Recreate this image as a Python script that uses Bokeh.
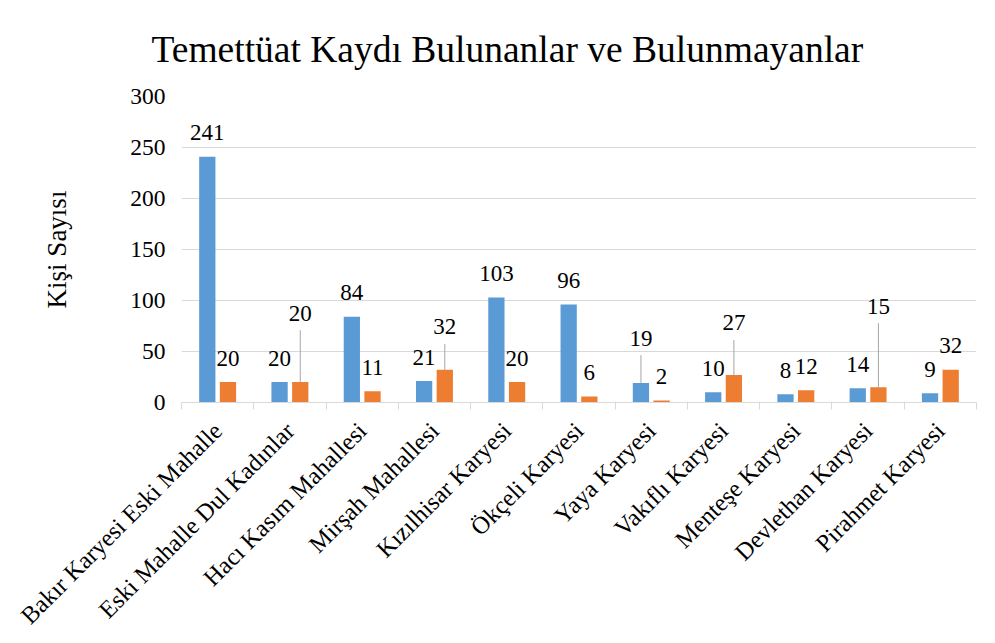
import math
from bokeh.plotting import figure
from bokeh.models import ColumnDataSource, Range1d, FixedTicker
from bokeh.transform import dodge
from bokeh.core.properties import value
from bokeh.embed import file_html
from bokeh.resources import INLINE

# ---- data ----
categories = ["Bakır Karyesi Eski Mahalle", "Eski Mahalle Dul Kadınlar",
              "Hacı Kasım Mahallesi", "Mirşah Mahallesi", "Kızılhisar Karyesi",
              "Ökçeli Karyesi", "Yaya Karyesi", "Vakıflı Karyesi",
              "Menteşe Karyesi", "Devlethan Karyesi", "Pirahmet Karyesi"]
bulunanlar = [241, 20, 84, 21, 103, 96, 19, 10, 8, 14, 9]
bulunmayanlar = [20, 20, 11, 32, 20, 6, 2, 27, 12, 15, 32]
y_ticks = [0, 50, 100, 150, 200, 250, 300]
title_text = "Temettüat Kaydı Bulunanlar ve Bulunmayanlar"
y_title = "Kişi Sayısı"

# ---- style: extra lift (px) of data labels that use a leader line ----
blue_label_lift = [0, 0, 0, 0, 0, 0, 21, 0, 0, 0, 0]
orange_label_lift = [0, 45, 0, 19, 0, 0, 0, 28, 0, 57, 0]

FONT = "Liberation Serif"
BLUE = "#5B9BD5"
ORANGE = "#ED7D31"
GRID = "#d9d9d9"
LEADER = "#a6a6a6"
BASE_OFF = 24
OFFS = 0.143
BAR_W = 0.225

n = len(categories)
centers = [i + 0.5 for i in range(n)]
bounds = list(range(n + 1))

src = ColumnDataSource(dict(
    x=centers,
    blue=bulunanlar,
    orange=bulunmayanlar,
    blue_lbl=[str(v) for v in bulunanlar],
    orange_lbl=[str(v) for v in bulunmayanlar],
    blue_yoff=[-(BASE_OFF + l) for l in blue_label_lift],
    orange_yoff=[-(BASE_OFF + l) for l in orange_label_lift],
))

lead_x, lead_y, lead_len = [], [], []
for i in range(n):
    if blue_label_lift[i] > 0:
        lead_x.append(centers[i] - OFFS); lead_y.append(bulunanlar[i]); lead_len.append(blue_label_lift[i] + 7)
    if orange_label_lift[i] > 0:
        lead_x.append(centers[i] + OFFS); lead_y.append(bulunmayanlar[i]); lead_len.append(orange_label_lift[i] + 7)
lead_src = ColumnDataSource(dict(x=lead_x, y=lead_y, length=lead_len))

p = figure(frame_width=795, frame_height=306,
           x_range=Range1d(0, n), y_range=Range1d(0, 300),
           output_backend="svg", toolbar_location=None,
           min_border_left=181, min_border_right=9,
           min_border_top=96, min_border_bottom=233)
p.background_fill_color = "white"
p.border_fill_color = "white"
p.outline_line_color = None

p.vbar(x=dodge("x", -OFFS), top="blue", width=BAR_W, bottom=0, source=src,
       fill_color=BLUE, line_color=None)
p.vbar(x=dodge("x", OFFS), top="orange", width=BAR_W, bottom=0, source=src,
       fill_color=ORANGE, line_color=None)

p.ray(x="x", y="y", length="length", length_units="screen", angle=math.pi / 2,
      source=lead_src, line_color=LEADER, line_width=1)

for col, xo in (("blue", -OFFS), ("orange", OFFS)):
    p.text(x=dodge("x", xo), y=col, text=col + "_lbl", y_offset=col + "_yoff",
           source=src, text_align="center", text_baseline="middle",
           text_font=value(FONT), text_font_size="23px", text_color="black")

# grid
p.xgrid.visible = False
p.ygrid.ticker = FixedTicker(ticks=y_ticks)
p.ygrid.grid_line_color = GRID
p.ygrid.grid_line_width = 1

# y axis
ya = p.yaxis[0]
ya.ticker = FixedTicker(ticks=y_ticks)
ya.axis_line_color = None
ya.major_tick_line_color = None
ya.minor_tick_line_color = None
ya.major_label_standoff = 10
ya.major_label_text_font = FONT
ya.major_label_text_font_size = "23.5px"
ya.major_label_text_color = "black"
ya.axis_label = y_title
ya.axis_label_text_font = FONT
ya.axis_label_text_font_size = "27px"
ya.axis_label_text_font_style = "normal"
ya.axis_label_text_color = "black"
ya.axis_label_standoff = 55

# x axis
xa = p.xaxis[0]
xa.ticker = FixedTicker(ticks=centers, minor_ticks=bounds)
xa.major_label_overrides = {c: name for c, name in zip(centers, categories)}
xa.axis_line_color = GRID
xa.axis_line_width = 1
xa.major_tick_line_color = None
xa.major_tick_out = 0
xa.major_tick_in = 0
xa.minor_tick_line_color = GRID
xa.minor_tick_out = 7
xa.minor_tick_in = 0
xa.major_label_orientation = math.pi / 4
xa.major_label_standoff = 17
xa.major_label_text_font = FONT
xa.major_label_text_font_size = "24.5px"
xa.major_label_text_color = "black"

# title
p.title.text = title_text
p.title.align = "left"
p.title.offset = -30
p.title.vertical_align = "top"
p.title.standoff = 49
p.title.text_font = FONT
p.title.text_font_size = "37.5px"
p.title.text_font_style = "normal"
p.title.text_color = "black"

open("out.html", "w").write(file_html(p, INLINE))
